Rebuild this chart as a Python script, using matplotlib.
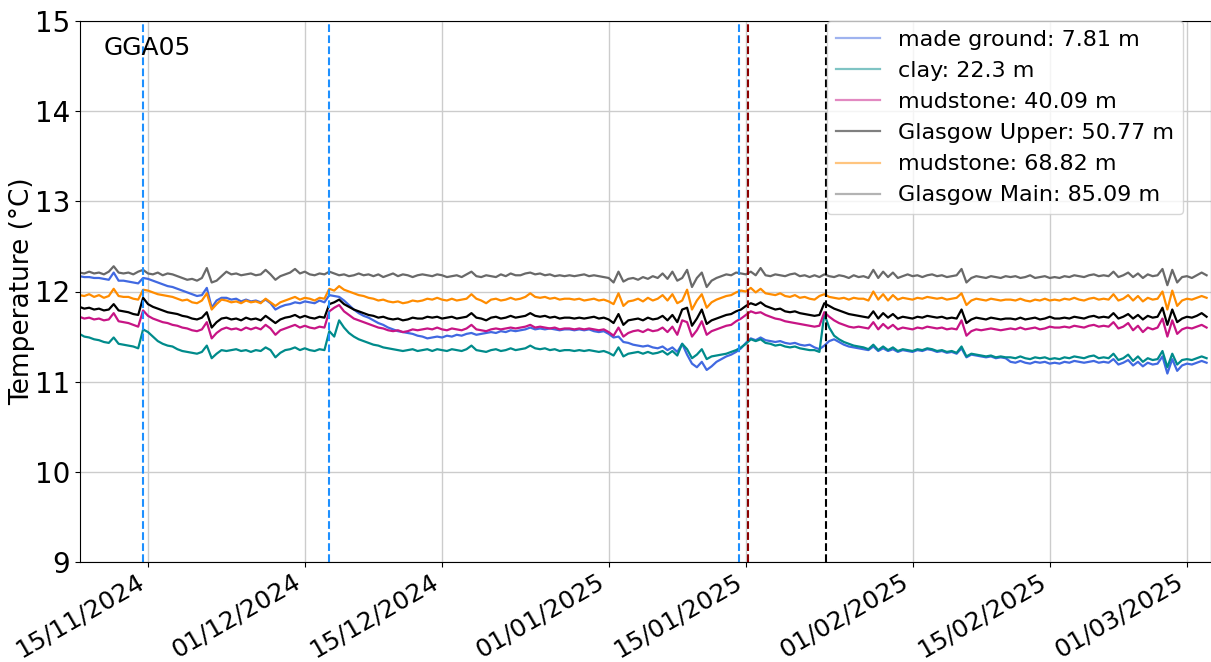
import matplotlib
matplotlib.use("Agg")
import matplotlib.pyplot as plt
import matplotlib.dates as mdates
import pandas as pd

# sampling: every 12 h starting 08/11/2024
start = "2024-11-08"
step = "12h"

labels = ["made ground: 7.81 m", "clay: 22.3 m", "mudstone: 40.09 m",
          "Glasgow Upper: 50.77 m", "mudstone: 68.82 m", "Glasgow Main: 85.09 m"]
colors = ["royalblue", "darkcyan", "mediumvioletred", "black", "darkorange", "dimgray"]

made_ground = [
    12.17, 12.16, 12.16, 12.15, 12.15, 12.14, 12.13, 12.21, 12.12, 12.12,
    12.11, 12.10, 12.09, 12.15, 12.14, 12.12, 12.10, 12.08, 12.06, 12.05,
    12.03, 12.01, 11.99, 11.97, 11.95, 11.96, 12.04, 11.82, 11.90, 11.93,
    11.93, 11.91, 11.92, 11.89, 11.91, 11.89, 11.90, 11.88, 11.91, 11.87,
    11.80, 11.83, 11.85, 11.86, 11.88, 11.87, 11.89, 11.88, 11.87, 11.90,
    11.88, 11.96, 11.95, 11.94, 11.90, 11.85, 11.80, 11.76, 11.73, 11.71,
    11.68, 11.65, 11.63, 11.60, 11.58, 11.56, 11.55, 11.54, 11.53, 11.51,
    11.50, 11.48, 11.49, 11.50, 11.49, 11.51, 11.50, 11.52, 11.51, 11.53,
    11.54, 11.52, 11.53, 11.54, 11.55, 11.54, 11.56, 11.55, 11.57, 11.56,
    11.57, 11.58, 11.60, 11.58, 11.59, 11.58, 11.59, 11.58, 11.57, 11.58,
    11.58, 11.57, 11.58, 11.57, 11.58, 11.56, 11.55, 11.56, 11.53, 11.49,
    11.50, 11.44, 11.43, 11.41, 11.40, 11.39, 11.40, 11.38, 11.37, 11.39,
    11.35, 11.38, 11.33, 11.42, 11.30, 11.20, 11.16, 11.22, 11.13, 11.17,
    11.22, 11.25, 11.28, 11.30, 11.33, 11.37, 11.43, 11.48, 11.46, 11.49,
    11.46, 11.45, 11.44, 11.45, 11.43, 11.42, 11.43, 11.41, 11.40, 11.41,
    11.38, 11.36, 11.40, 11.45, 11.47, 11.44, 11.41, 11.39, 11.38, 11.37,
    11.36, 11.35, 11.39, 11.34, 11.37, 11.34, 11.36, 11.33, 11.35, 11.34,
    11.33, 11.35, 11.34, 11.36, 11.35, 11.33, 11.34, 11.32, 11.33, 11.31,
    11.37, 11.27, 11.30, 11.29, 11.28, 11.27, 11.28, 11.26, 11.27, 11.26,
    11.22, 11.21, 11.23, 11.21, 11.20, 11.22, 11.21, 11.22, 11.20, 11.21,
    11.20, 11.22, 11.21, 11.23, 11.22, 11.21, 11.22, 11.23, 11.21, 11.22,
    11.21, 11.25, 11.19, 11.21, 11.24, 11.18, 11.22, 11.17, 11.21, 11.19,
    11.20, 11.28, 11.09, 11.25, 11.12, 11.18, 11.20, 11.19, 11.21, 11.23,
    11.21]

clay = [
    11.53, 11.50, 11.49, 11.47, 11.46, 11.44, 11.43, 11.49, 11.42, 11.41,
    11.40, 11.39, 11.37, 11.58, 11.55, 11.50, 11.45, 11.42, 11.40, 11.39,
    11.36, 11.34, 11.33, 11.32, 11.31, 11.33, 11.40, 11.26, 11.31, 11.35,
    11.34, 11.35, 11.36, 11.34, 11.35, 11.33, 11.35, 11.34, 11.38, 11.35,
    11.27, 11.32, 11.35, 11.36, 11.38, 11.35, 11.37, 11.35, 11.34, 11.36,
    11.35, 11.56, 11.50, 11.68, 11.60, 11.54, 11.50, 11.47, 11.45, 11.43,
    11.41, 11.40, 11.38, 11.37, 11.36, 11.35, 11.34, 11.35, 11.36, 11.34,
    11.35, 11.36, 11.34, 11.36, 11.35, 11.34, 11.36, 11.35, 11.34, 11.36,
    11.40, 11.35, 11.34, 11.33, 11.35, 11.36, 11.34, 11.35, 11.37, 11.35,
    11.36, 11.37, 11.40, 11.37, 11.36, 11.37, 11.35, 11.36, 11.34, 11.35,
    11.35, 11.34, 11.35, 11.34, 11.35, 11.34, 11.33, 11.34, 11.32, 11.29,
    11.38, 11.28, 11.31, 11.32, 11.33, 11.31, 11.33, 11.31, 11.32, 11.34,
    11.30, 11.34, 11.29, 11.42, 11.36, 11.26, 11.30, 11.36, 11.25, 11.28,
    11.29, 11.30, 11.31, 11.33, 11.35, 11.38, 11.42, 11.47, 11.45, 11.47,
    11.43, 11.42, 11.40, 11.41, 11.39, 11.38, 11.39, 11.37, 11.36, 11.35,
    11.35, 11.33, 11.75, 11.60, 11.51, 11.47, 11.44, 11.42, 11.40, 11.39,
    11.38, 11.36, 11.41, 11.35, 11.39, 11.35, 11.38, 11.34, 11.36, 11.35,
    11.34, 11.36, 11.35, 11.37, 11.36, 11.34, 11.35, 11.33, 11.34, 11.32,
    11.39, 11.28, 11.31, 11.30, 11.29, 11.28, 11.29, 11.27, 11.28, 11.27,
    11.27, 11.26, 11.28, 11.26, 11.25, 11.27, 11.26, 11.27, 11.25, 11.26,
    11.25, 11.27, 11.26, 11.28, 11.27, 11.26, 11.28, 11.29, 11.26, 11.27,
    11.26, 11.31, 11.24, 11.26, 11.30, 11.23, 11.28, 11.22, 11.26, 11.24,
    11.25, 11.34, 11.16, 11.31, 11.19, 11.24, 11.25, 11.24, 11.26, 11.28,
    11.26]

mudstone_40 = [
    11.72, 11.70, 11.71, 11.69, 11.70, 11.68, 11.69, 11.76, 11.67, 11.66,
    11.65, 11.63, 11.61, 11.79, 11.73, 11.70, 11.68, 11.66, 11.65, 11.63,
    11.62, 11.60, 11.59, 11.57, 11.56, 11.58, 11.66, 11.48, 11.54, 11.58,
    11.60, 11.58, 11.59, 11.57, 11.60, 11.58, 11.60, 11.58, 11.63, 11.59,
    11.52, 11.57, 11.59, 11.61, 11.63, 11.60, 11.62, 11.60, 11.59, 11.61,
    11.60, 11.78, 11.82, 11.85, 11.78, 11.74, 11.70, 11.68, 11.66, 11.64,
    11.62, 11.60, 11.59, 11.57, 11.56, 11.57, 11.55, 11.56, 11.58, 11.57,
    11.58, 11.59, 11.58, 11.60, 11.58, 11.57, 11.59, 11.58, 11.57, 11.59,
    11.63, 11.58, 11.57, 11.56, 11.58, 11.59, 11.58, 11.59, 11.60, 11.59,
    11.60, 11.61, 11.63, 11.60, 11.61, 11.60, 11.59, 11.60, 11.58, 11.59,
    11.59, 11.58, 11.59, 11.58, 11.59, 11.58, 11.57, 11.58, 11.55, 11.51,
    11.60, 11.50, 11.54, 11.56, 11.57, 11.55, 11.58, 11.56, 11.57, 11.60,
    11.55, 11.61, 11.52, 11.68, 11.66, 11.50, 11.57, 11.67, 11.52, 11.56,
    11.58, 11.60, 11.62, 11.63, 11.67, 11.70, 11.74, 11.78, 11.76, 11.77,
    11.74, 11.72, 11.70, 11.69, 11.67, 11.66, 11.65, 11.64, 11.63, 11.62,
    11.61, 11.62, 11.77, 11.72, 11.68, 11.65, 11.63, 11.61, 11.60, 11.61,
    11.60, 11.59, 11.66, 11.58, 11.64, 11.59, 11.63, 11.58, 11.60, 11.59,
    11.58, 11.60, 11.59, 11.61, 11.60, 11.59, 11.60, 11.58, 11.59, 11.58,
    11.68, 11.51, 11.56, 11.58, 11.57, 11.58, 11.59, 11.58, 11.57, 11.58,
    11.59, 11.58, 11.60, 11.58, 11.59, 11.60, 11.58, 11.59, 11.61, 11.60,
    11.60, 11.61, 11.60, 11.62, 11.61, 11.60, 11.62, 11.63, 11.61, 11.62,
    11.61, 11.66, 11.59, 11.61, 11.65, 11.57, 11.62, 11.55, 11.60, 11.58,
    11.60, 11.70, 11.50, 11.68, 11.53, 11.58, 11.60, 11.59, 11.61, 11.63,
    11.60]

glasgow_upper = [
    11.83, 11.81, 11.82, 11.80, 11.81, 11.79, 11.80, 11.86, 11.79, 11.78,
    11.77, 11.75, 11.74, 11.93, 11.86, 11.83, 11.81, 11.79, 11.77, 11.76,
    11.75, 11.73, 11.72, 11.70, 11.69, 11.71, 11.77, 11.60, 11.66, 11.70,
    11.71, 11.69, 11.70, 11.68, 11.71, 11.69, 11.70, 11.68, 11.73, 11.69,
    11.65, 11.69, 11.71, 11.72, 11.74, 11.71, 11.73, 11.71, 11.70, 11.72,
    11.71, 11.86, 11.88, 11.91, 11.86, 11.83, 11.80, 11.78, 11.76, 11.74,
    11.73, 11.71, 11.72, 11.70, 11.69, 11.70, 11.68, 11.69, 11.71, 11.70,
    11.70, 11.72, 11.71, 11.72, 11.70, 11.71, 11.72, 11.70, 11.71, 11.72,
    11.76, 11.71, 11.70, 11.68, 11.71, 11.72, 11.70, 11.71, 11.73, 11.71,
    11.72, 11.73, 11.76, 11.73, 11.72, 11.73, 11.71, 11.72, 11.70, 11.71,
    11.71, 11.70, 11.71, 11.70, 11.71, 11.72, 11.70, 11.71, 11.69, 11.65,
    11.75, 11.63, 11.68, 11.69, 11.70, 11.68, 11.71, 11.69, 11.70, 11.73,
    11.68, 11.74, 11.66, 11.80, 11.82, 11.62, 11.70, 11.80, 11.64, 11.68,
    11.70, 11.72, 11.74, 11.75, 11.78, 11.80, 11.84, 11.87, 11.85, 11.88,
    11.84, 11.82, 11.80, 11.81, 11.78, 11.77, 11.78, 11.76, 11.75, 11.74,
    11.73, 11.74, 11.87, 11.84, 11.81, 11.79, 11.77, 11.75, 11.74, 11.73,
    11.72, 11.71, 11.78, 11.70, 11.76, 11.71, 11.75, 11.70, 11.72, 11.71,
    11.70, 11.72, 11.71, 11.73, 11.72, 11.71, 11.72, 11.70, 11.71, 11.70,
    11.80, 11.65, 11.69, 11.71, 11.70, 11.69, 11.71, 11.70, 11.69, 11.70,
    11.70, 11.69, 11.71, 11.69, 11.70, 11.71, 11.69, 11.70, 11.72, 11.70,
    11.70, 11.71, 11.70, 11.72, 11.71, 11.70, 11.72, 11.73, 11.71, 11.72,
    11.71, 11.76, 11.70, 11.72, 11.75, 11.70, 11.74, 11.69, 11.73, 11.71,
    11.72, 11.82, 11.63, 11.80, 11.66, 11.70, 11.72, 11.71, 11.73, 11.76,
    11.72]

mudstone_68 = [
    11.96, 11.95, 11.97, 11.94, 11.96, 11.93, 11.95, 12.03, 11.95, 11.94,
    11.94, 11.92, 11.91, 12.02, 12.01, 11.99, 11.97, 11.96, 11.95, 11.94,
    11.92, 11.90, 11.91, 11.88, 11.87, 11.90, 11.98, 11.80, 11.86, 11.91,
    11.90, 11.88, 11.89, 11.87, 11.90, 11.88, 11.89, 11.87, 11.92, 11.88,
    11.84, 11.88, 11.90, 11.92, 11.94, 11.91, 11.93, 11.92, 11.90, 11.93,
    11.92, 12.03, 12.01, 12.06, 12.02, 12.00, 11.98, 11.96, 11.95, 11.93,
    11.92, 11.90, 11.91, 11.89, 11.88, 11.89, 11.87, 11.88, 11.90, 11.89,
    11.90, 11.92, 11.91, 11.93, 11.91, 11.90, 11.92, 11.90, 11.91, 11.92,
    11.97, 11.92, 11.90, 11.87, 11.91, 11.92, 11.90, 11.91, 11.93, 11.91,
    11.92, 11.94, 11.98, 11.94, 11.93, 11.94, 11.92, 11.93, 11.91, 11.92,
    11.92, 11.91, 11.92, 11.90, 11.91, 11.92, 11.90, 11.91, 11.89, 11.86,
    11.98, 11.84, 11.89, 11.90, 11.92, 11.89, 11.93, 11.90, 11.92, 11.96,
    11.90, 11.97, 11.87, 11.90, 12.02, 11.80, 11.90, 11.97, 11.82, 11.88,
    11.91, 11.93, 11.95, 11.96, 11.99, 12.01, 12.00, 12.04, 11.99, 12.03,
    11.98, 11.97, 11.96, 11.98, 11.95, 11.94, 11.96, 11.93, 11.94, 11.92,
    11.91, 11.95, 11.97, 11.94, 11.93, 11.92, 11.93, 11.91, 11.93, 11.92,
    11.92, 11.90, 12.00, 11.91, 11.97, 11.90, 11.96, 11.91, 11.93, 11.92,
    11.91, 11.93, 11.92, 11.94, 11.93, 11.92, 11.93, 11.91, 11.92, 11.93,
    11.98, 11.85, 11.90, 11.92, 11.91, 11.90, 11.92, 11.91, 11.90, 11.91,
    11.91, 11.90, 11.92, 11.90, 11.89, 11.91, 11.90, 11.92, 11.90, 11.91,
    11.90, 11.92, 11.91, 11.93, 11.91, 11.90, 11.92, 11.93, 11.91, 11.92,
    11.91, 11.97, 11.90, 11.92, 11.96, 11.90, 11.95, 11.89, 11.93, 11.91,
    11.92, 12.00, 11.80, 12.01, 11.84, 11.90, 11.92, 11.91, 11.93, 11.95,
    11.93]

glasgow_main = [
    12.21, 12.20, 12.22, 12.20, 12.21, 12.19, 12.22, 12.28, 12.21, 12.20,
    12.21, 12.19, 12.22, 12.24, 12.20, 12.19, 12.21, 12.18, 12.20, 12.19,
    12.17, 12.15, 12.13, 12.14, 12.12, 12.15, 12.26, 12.10, 12.12, 12.17,
    12.22, 12.19, 12.20, 12.18, 12.19, 12.20, 12.18, 12.19, 12.24, 12.19,
    12.13, 12.17, 12.19, 12.21, 12.25, 12.20, 12.22, 12.19, 12.18, 12.20,
    12.19, 12.22, 12.20, 12.18, 12.19, 12.17, 12.18, 12.20, 12.18, 12.19,
    12.17, 12.19, 12.16, 12.18, 12.20, 12.17, 12.19, 12.18, 12.16, 12.18,
    12.19, 12.18, 12.17, 12.19, 12.18, 12.16, 12.17, 12.18, 12.16, 12.19,
    12.22, 12.17, 12.16, 12.18, 12.17, 12.16, 12.19, 12.17, 12.20, 12.18,
    12.18, 12.20, 12.21, 12.19, 12.20, 12.18, 12.19, 12.17, 12.18, 12.17,
    12.18, 12.17, 12.18, 12.19, 12.17, 12.18, 12.17, 12.16, 12.15, 12.10,
    12.22, 12.11, 12.14, 12.15, 12.13, 12.16, 12.14, 12.17, 12.15, 12.20,
    12.14, 12.22, 12.12, 12.15, 12.24, 12.05, 12.15, 12.21, 12.05, 12.12,
    12.15, 12.17, 12.19, 12.18, 12.21, 12.20, 12.19, 12.22, 12.18, 12.26,
    12.18, 12.17, 12.19, 12.18, 12.17, 12.19, 12.20, 12.17, 12.18, 12.16,
    12.18, 12.16, 12.19, 12.17, 12.16, 12.18, 12.17, 12.15, 12.18, 12.16,
    12.17, 12.15, 12.24, 12.15, 12.22, 12.16, 12.21, 12.15, 12.17, 12.19,
    12.17, 12.18, 12.16, 12.18, 12.19, 12.17, 12.18, 12.16, 12.17, 12.18,
    12.25, 12.10, 12.15, 12.17, 12.16, 12.15, 12.17, 12.16, 12.15, 12.17,
    12.16, 12.17, 12.15, 12.16, 12.18, 12.15, 12.16, 12.17, 12.15, 12.16,
    12.15, 12.17, 12.16, 12.18, 12.17, 12.16, 12.18, 12.19, 12.17, 12.18,
    12.17, 12.22, 12.16, 12.18, 12.21, 12.16, 12.20, 12.15, 12.19, 12.17,
    12.18, 12.25, 12.07, 12.24, 12.10, 12.16, 12.17, 12.15, 12.18, 12.21,
    12.18]

# event markers (vertical dashed lines)
blue_events = ["2024-11-14 12:00", "2024-12-03 12:00", "2025-01-14 07:00"]
red_event = "2025-01-15 05:00"
black_event = "2025-01-23 05:00"

series = [made_ground, clay, mudstone_40, glasgow_upper, mudstone_68, glasgow_main]

fig = plt.figure(figsize=(12.11, 6.62), dpi=100)
ax = fig.add_axes([80 / 1211, 1 - 562 / 662, 1131 / 1211, 541 / 662])

for vals, lab, col in zip(series, labels, colors):
    t = pd.date_range(start, periods=len(vals), freq=step)
    ax.plot(t, vals, color=col, lw=1.6, label=lab)

for ev in blue_events:
    ax.axvline(pd.Timestamp(ev), color="dodgerblue", ls="--", lw=1.5)
ax.axvline(pd.Timestamp(red_event), color="darkred", ls="--", lw=1.5)
ax.axvline(pd.Timestamp(black_event), color="black", ls="--", lw=1.5)

ax.set_ylim(9, 15)
ax.set_xlim(pd.Timestamp("2024-11-08 01:30"), pd.Timestamp("2025-03-03 10:50"))
ax.xaxis.set_major_locator(mdates.DayLocator(bymonthday=[1, 15]))
ax.xaxis.set_major_formatter(mdates.DateFormatter("%d/%m/%Y"))
ax.grid(True, color="0.8", lw=1)
ax.tick_params(axis="y", labelsize=20)
ax.tick_params(axis="x", labelsize=18, pad=2)
plt.setp(ax.get_xticklabels(), rotation=30, ha="right")
ax.set_ylabel("Temperature (°C)", fontsize=19)
ax.yaxis.set_label_coords(-0.040, 0.5)
ax.text(0.021, 0.95, "GGA05", transform=ax.transAxes, fontsize=18, va="center")

leg = ax.legend(fontsize=16, loc="upper right",
                bbox_to_anchor=(1183 / 1211, 1 - 21 / 662),
                bbox_transform=fig.transFigure, borderaxespad=0)
for ln in leg.get_lines():
    ln.set_alpha(0.5)

fig.savefig("out.png", dpi=100)
